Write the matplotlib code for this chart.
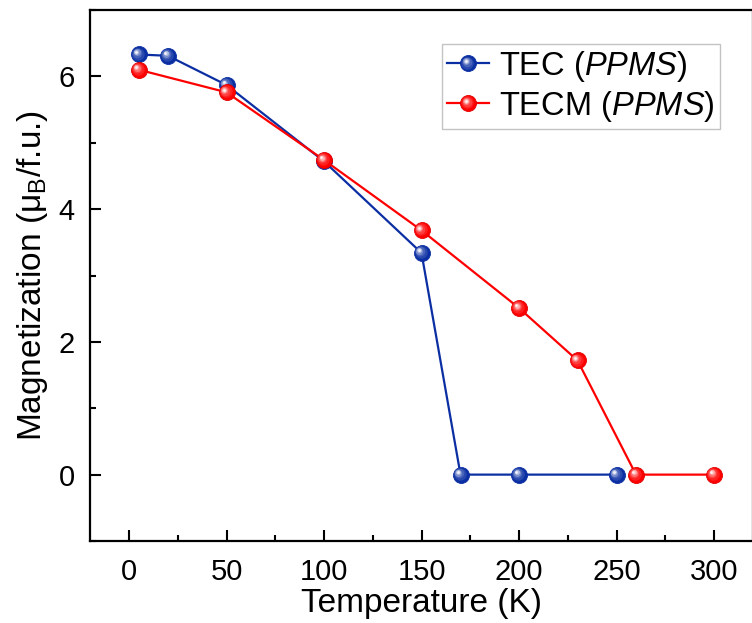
import numpy as np
import matplotlib
matplotlib.use("Agg")
import matplotlib.pyplot as plt
from matplotlib.transforms import offset_copy
from matplotlib.legend_handler import HandlerLine2D
from matplotlib.lines import Line2D
from matplotlib.colors import to_rgb

plt.rcParams['font.family'] = ['Liberation Sans', 'DejaVu Sans']
plt.rcParams['mathtext.fontset'] = 'custom'
plt.rcParams['mathtext.rm'] = 'Liberation Sans'
plt.rcParams['mathtext.it'] = 'Liberation Sans:italic'
plt.rcParams['mathtext.bf'] = 'Liberation Sans:bold'

# Magnetization vs temperature
tec_T = [5, 20, 50, 100, 150, 170, 200, 250]
tec_M = [6.33, 6.31, 5.87, 4.72, 3.34, 0.0, 0.0, 0.0]
tecm_T = [5, 50, 100, 150, 200, 230, 260, 300]
tecm_M = [6.10, 5.76, 4.74, 3.68, 2.51, 1.72, 0.0, 0.0]

x_ticks = [0, 50, 100, 150, 200, 250, 300]
y_ticks = [0, 2, 4, 6]

BLUE = '#0B2FA3'
RED = '#FF0000'
MS = 11.5
TICK_FS = 21
LABEL_FS = 24
LEG_FS = 23.5

# shading layers for a glossy sphere: (size fraction, mix to white, shift fraction)
LAYERS = [(0.78, 0.12, 0.10), (0.6, 0.25, 0.18), (0.44, 0.45, 0.24),
          (0.3, 0.7, 0.28), (0.17, 0.95, 0.30)]


def mix(c, f):
    r, g, b = to_rgb(c)
    return (r + (1 - r) * f, g + (1 - g) * f, b + (1 - b) * f)


def sphere_layers(ax, x, y, color, base_transform, z, fig):
    arts = []
    for frac, w, sh in LAYERS:
        d = MS * sh
        tr = offset_copy(base_transform, fig=fig, x=-d * 0.55, y=d * 0.55, units='points')
        a, = ax.plot(x, y, linestyle='none', marker='o', ms=MS * frac,
                     mfc=mix(color, w), mec='none', transform=tr, zorder=z)
        arts.append(a)
    return arts


class SphereHandler(HandlerLine2D):
    def create_artists(self, legend, orig_handle, xdescent, ydescent,
                       width, height, fontsize, trans):
        artists = super().create_artists(legend, orig_handle, xdescent, ydescent,
                                         width, height, fontsize, trans)
        color = orig_handle.get_markerfacecolor()
        xm = [width / 2 - xdescent]
        ym = [height / 2 - ydescent]
        for frac, w, sh in LAYERS:
            d = MS * sh
            tr = offset_copy(trans, fig=legend.figure, x=-d * 0.55, y=d * 0.55, units='points')
            a = Line2D(xm, ym, linestyle='none', marker='o',
                       ms=MS * frac, mfc=mix(color, w), mec='none')
            a.set_transform(tr)
            artists.append(a)
        return artists


fig = plt.figure(figsize=(7.52, 6.23), dpi=100)
ax = fig.add_axes([90 / 752, 82 / 623, 663 / 752, 531 / 623])

l1, = ax.plot(tec_T, tec_M, color=BLUE, lw=1.6, marker='o', ms=MS,
              mfc=BLUE, mec=BLUE, mew=0.6, zorder=3,
              label='TEC ($\\it{PPMS}$)')
sphere_layers(ax, tec_T, tec_M, BLUE, ax.transData, 3.1, fig)
l2, = ax.plot(tecm_T, tecm_M, color=RED, lw=1.6, marker='o', ms=MS,
              mfc=RED, mec='#E00000', mew=0.6, zorder=4,
              label='TECM ($\\it{PPMS}$)')
sphere_layers(ax, tecm_T, tecm_M, RED, ax.transData, 4.1, fig)

ax.set_xticks(x_ticks)
ax.set_yticks(y_ticks)
ax.set_xticks(np.arange(-25, 325, 25), minor=True)
ax.set_yticks(np.arange(-1, 8, 1), minor=True)
ax.set_xlim(-20, 320)
ax.set_ylim(-1, 7)
ax.tick_params(which='major', direction='in', length=8, width=1.5,
               labelsize=TICK_FS)
ax.tick_params(axis='x', which='major', pad=12)
ax.tick_params(axis='y', which='major', pad=11)
ax.tick_params(which='minor', direction='in', length=4, width=1.5)
ax.tick_params(axis='y', which='both', right=False)
ax.tick_params(axis='x', which='both', top=False)
for s in ax.spines.values():
    s.set_linewidth(1.6)

ax.set_xlabel('Temperature (K)', fontsize=LABEL_FS, labelpad=1.5)
ax.set_ylabel('Magnetization (μ$_\\mathrm{B}$/f.u.)', fontsize=LABEL_FS, labelpad=6)

leg = ax.legend(handles=[l1, l2], loc='upper right',
                bbox_to_anchor=(0.950, 0.936), fontsize=LEG_FS,
                frameon=True, fancybox=False, edgecolor='#b4b4b4',
                handlelength=1.3, handletextpad=0.3, borderpad=0.15,
                labelspacing=0.15, borderaxespad=0,
                handler_map={Line2D: SphereHandler()})
leg.get_frame().set_linewidth(1.0)

fig.savefig('out.png', dpi=100)
